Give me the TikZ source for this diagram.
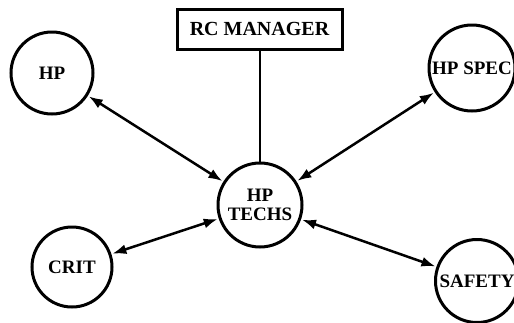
\documentclass[tikz,border=0pt]{standalone}
\usepackage{fontspec}
\setmainfont{Liberation Serif}
\usetikzlibrary{arrows.meta}
\begin{document}
\begin{tikzpicture}[x=1pt,y=-1pt,
  lbl/.style={font=\bfseries\fontsize{19}{22}\selectfont, align=center},
  circ/.style={circle, draw, line width=3pt, minimum size=#1, inner sep=0pt, lbl},
  link/.style={line width=2.5pt, {Latex[length=14pt,width=10pt]}-{Latex[length=14pt,width=10pt]}, shorten <=1pt, shorten >=1pt}]
  \useasboundingbox (0,0) rectangle (514,322);
  \node[draw, line width=3pt, minimum width=165pt, minimum height=40pt, inner sep=0pt,
        font=\bfseries\fontsize{20}{22}\selectfont] (rc) at (259.5,29) {RC MANAGER};
  \node[circ=84pt] (tech) at (260,205) {HP\\[-3pt]TECHS};
  \node[circ=82pt] (hp) at (52,73) {HP};
  \node[circ=86pt] (spec) at (472,68) {HP SPEC};
  \node[circ=80pt] (crit) at (72,267) {CRIT};
  \node[circ=83pt] (safe) at (477,281) {SAFETY};
  \draw[line width=2.5pt] (rc.south -| tech.north) -- (tech.north);
  \draw[link] (hp) -- (tech);
  \draw[link] (spec) -- (tech);
  \draw[link] (crit) -- (tech);
  \draw[link] (safe) -- (tech);
\end{tikzpicture}
\end{document}
